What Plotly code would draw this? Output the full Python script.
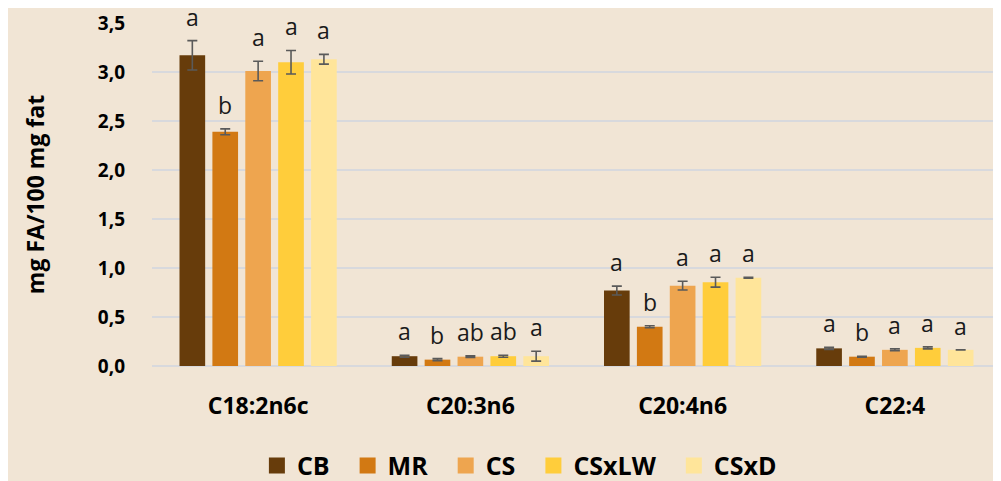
import plotly.graph_objects as go

categories = ["C18:2n6c", "C20:3n6", "C20:4n6", "C22:4"]
series = ["CB", "MR", "CS", "CSxLW", "CSxD"]
colors = ["#673C0B", "#D27913", "#EEA54F", "#FFCD3B", "#FFE59A"]

cb = [3.17, 0.10, 0.77, 0.18]
mr = [2.39, 0.065, 0.40, 0.095]
cs = [3.01, 0.095, 0.82, 0.165]
csxlw = [3.10, 0.10, 0.855, 0.185]
csxd = [3.13, 0.10, 0.90, 0.165]

cb_err = [0.15, 0.01, 0.045, 0.01]
mr_err = [0.03, 0.01, 0.01, 0.005]
cs_err = [0.10, 0.008, 0.045, 0.01]
csxlw_err = [0.12, 0.01, 0.05, 0.01]
csxd_err = [0.05, 0.05, 0.005, 0.0]

cb_lbl = ["a", "a", "a", "a"]
mr_lbl = ["b", "b", "b", "b"]
cs_lbl = ["a", "ab", "a", "a"]
csxlw_lbl = ["a", "ab", "a", "a"]
csxd_lbl = ["a", "a", "a", "a"]

values = [cb, mr, cs, csxlw, csxd]
errs = [cb_err, mr_err, cs_err, csxlw_err, csxd_err]
labels = [cb_lbl, mr_lbl, cs_lbl, csxlw_lbl, csxd_lbl]

FONT = "Open Sans, Liberation Sans, sans-serif"
BARGAP = 0.225

fig = go.Figure()
for name, col, v, e in zip(series, colors, values, errs):
    fig.add_trace(go.Bar(
        name=name, x=categories, y=v, marker=dict(color=col, line=dict(width=0)),
        error_y=dict(type="data", array=e, visible=True, color="#5A5A5A", thickness=1.6, width=5),
        showlegend=False, legendgroup=name,
    ))
# legend entries with larger square swatches (extra spacing between entries)
for k, (name, col) in enumerate(zip(series, colors)):
    pad = "\u00a0\u00a0" if k < len(series) - 1 else ""
    fig.add_trace(go.Scatter(
        name=name + pad, x=[None], y=[None], mode="markers", legendgroup=name,
        marker=dict(symbol="square", size=16, color=col, line=dict(width=0)),
        showlegend=True,
    ))

# significance letters above error bars
n = len(series)
gw = 1 - BARGAP
for i, (v, e, lb) in enumerate(zip(values, errs, labels)):
    for j, cat in enumerate(categories):
        xoff = (i - (n - 1) / 2) * gw / n
        fig.add_annotation(
            x=j + xoff, y=v[j] + e[j], xref="x", yref="y", text=lb[j],
            showarrow=False, yanchor="bottom", yshift=6,
            font=dict(family=FONT, size=23, color="#1A1A1A"),
        )

fig.update_layout(
    width=993, height=473,
    paper_bgcolor="#F1E5D5", plot_bgcolor="#F1E5D5",
    margin=dict(l=144, r=0, t=15, b=115, autoexpand=False),
    barmode="group", bargap=BARGAP, bargroupgap=0.22,
    separators=",.",
    showlegend=True,
    legend=dict(orientation="h", xref="container", x=0.515, xanchor="center",
                yref="container", y=0.032, yanchor="middle",
                font=dict(family=FONT, size=25, color="#000000", weight="bold"),
                itemwidth=30, traceorder="normal"),
    font=dict(family=FONT, color="#000000"),
)
fig.update_xaxes(
    type="category", showgrid=False, showline=False, ticks="",
    tickfont=dict(size=23, family=FONT, weight="bold"),
    ticklabelstandoff=24,
)
fig.update_yaxes(
    range=[0, 3.5], dtick=0.5, tickformat=".1f", showgrid=True, gridcolor="#D8D9DD", gridwidth=1.5,
    zeroline=True, zerolinecolor="#D8D9DD", zerolinewidth=1.5, showline=False,
    tickfont=dict(size=19, weight="bold"), ticklabelstandoff=26,
    title=dict(text="mg FA/100 mg fat", font=dict(size=23, weight="bold"), standoff=46),
)
fig.write_html("out.html")
